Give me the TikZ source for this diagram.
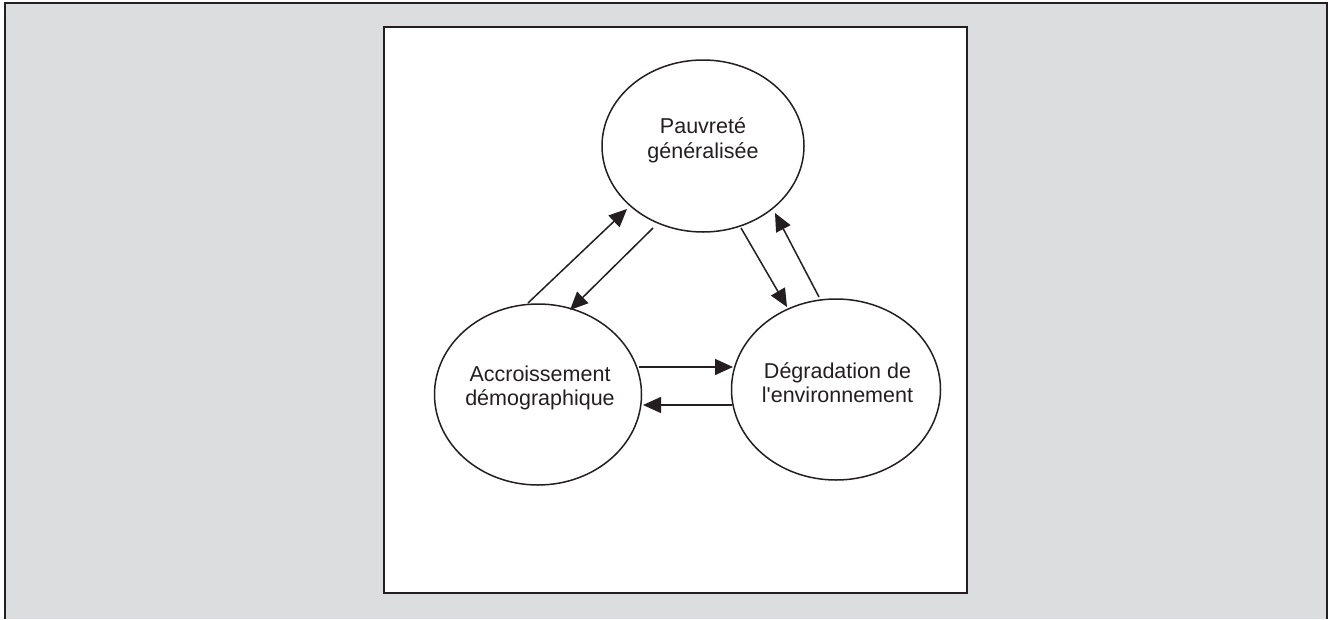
\documentclass[tikz,border=0pt]{standalone}
\usepackage{fontspec}
\setmainfont{Liberation Sans}
\usetikzlibrary{arrows.meta,calc,shapes.geometric}
\definecolor{ink}{HTML}{231F20}
\definecolor{panel}{HTML}{DCDDDF}
\begin{document}
\begin{tikzpicture}[x=1pt,y=-1pt,
  bubble/.style={ellipse,draw=ink,line width=1.5pt,inner sep=0pt,fill=white},
  lbl/.style={align=center,inner sep=0pt,font=\fontsize{21.5}{24.5}\selectfont,text=ink},
  arr/.style={draw=ink,line width=1.5pt,-{Triangle[length=18pt,width=16pt]}}]
\useasboundingbox (0,0) rectangle (1334,619);
\fill[panel] (5,3) rectangle (1327,619);
\draw[ink,line width=1.5pt] (5,619) -- (5,3) -- (1327,3) -- (1327,619);
\draw[ink,fill=white,line width=2pt] (384,27) rectangle (967,593);
% ellipses
\node[bubble,minimum width=202pt,minimum height=172pt] (T) at (703,146) {};
\node[bubble,minimum width=207pt,minimum height=181pt] (L) at (538,394.5) {};
\node[bubble,minimum width=209pt,minimum height=181pt] (R) at (836,389.5) {};
% labels
\node[lbl] (Tt) at ($(T.center)+(0,-5.8)$) {Pauvreté\\généralisée};
\node[lbl] (Lt) at ($(L.center)+(2,-6.7)$) {Accroissement\\démographique};
\node[lbl] (Rt) at ($(R.center)+(1.5,-6.9)$) {Dégradation de\\l\textquotesingle environnement};
% connectors
\draw[arr] ($(L.center)+(-10,-91.5)$) -- ($(T.center)+(-76,63)$);
\draw[arr] ($(T.center)+(-50,82)$) -- ($(L.center)+(32,-84.5)$);
\draw[arr] ($(T.center)+(38,82)$) -- ($(R.center)+(-49,-82.5)$);
\draw[arr] ($(R.center)+(-17,-92.5)$) -- ($(T.center)+(72,67)$);
\draw[arr] ($(L.center)+(101,-27.5)$) -- ($(R.center)+(-103,-22.5)$);
\draw[arr] ($(R.center)+(-104,15.5)$) -- ($(L.center)+(105,10.5)$);
\end{tikzpicture}
\end{document}
